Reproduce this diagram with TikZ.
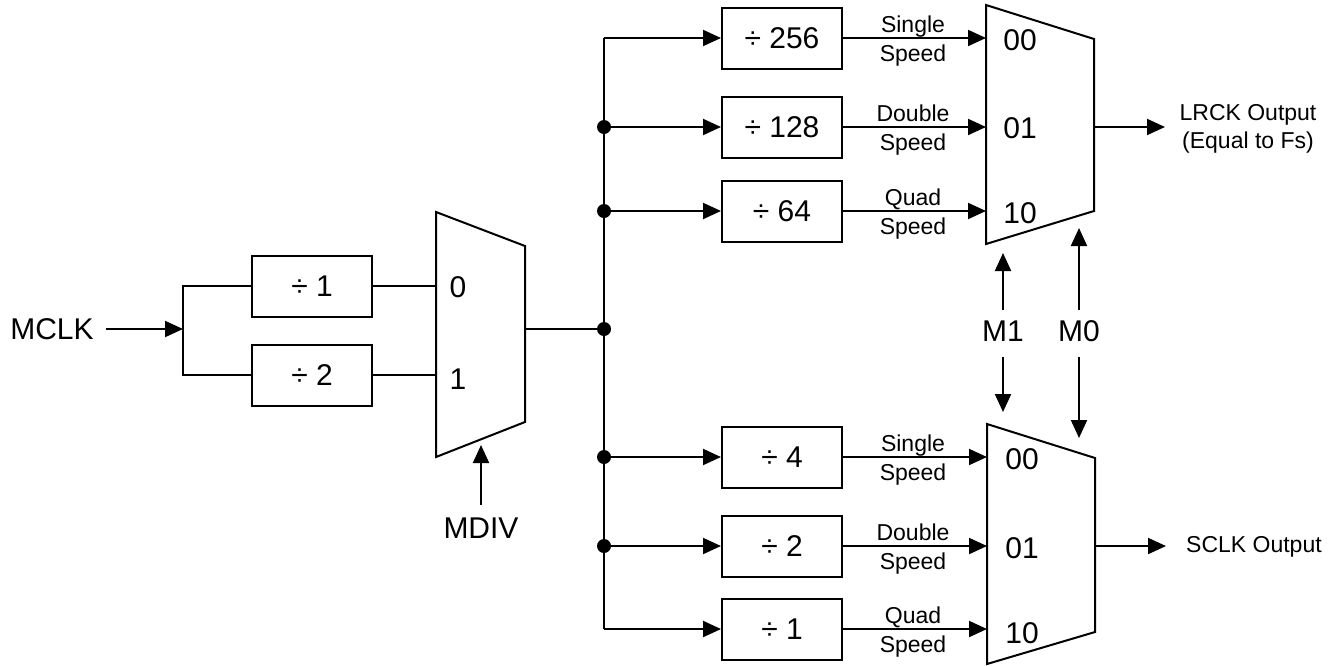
\documentclass[tikz,border=0pt]{standalone}
\usepackage{fontspec}
\setmainfont{Liberation Sans}
\usetikzlibrary{arrows.meta}
\begin{document}
\begin{tikzpicture}[x=1pt,y=-1pt,
  wire/.style={line width=2pt},
  arr/.style={line width=2pt,-{Triangle[length=18pt,width=16pt]}},
  divbox/.style={draw,line width=2pt,minimum width=120pt,minimum height=61pt,inner sep=0pt,font=\fontsize{30}{34}\selectfont},
  big/.style={inner sep=0pt,font=\fontsize{30}{34}\selectfont},
  small/.style={inner sep=0pt,font=\fontsize{23}{28}\selectfont},
  dot/.style={circle,fill,inner sep=0pt,minimum size=14pt},
  muxshape/.style={draw,line width=2pt,line join=miter}
]
\useasboundingbox (0,0) rectangle (1341,665);

% ---- input stage ----
\node[big] (mclk) at (52,329) {MCLK};
\coordinate (br) at (183,329);
\node[divbox] (d1) at (312,286) {÷ 1};
\node[divbox] (d2) at (312,375) {÷ 2};
\draw[arr] ([xshift=12pt]mclk.east) -- (br);
\draw[wire] (d1.west) -| (br) |- (d2.west);

% mux 1
\draw[muxshape] (436,212) -- (525,246) -- (525,422) -- (436,457) -- cycle;
\coordinate (m1a) at (436,286);
\coordinate (m1b) at (436,375);
\coordinate (m1o) at (525,329);
\coordinate (m1s) at (481,445);
\node[big] (l0) at (458,287) {0};
\node[big] (l1) at (458,379) {1};
\draw[wire] (d1.east) -- (m1a);
\draw[wire] (d2.east) -- (m1b);
\node[big] (mdiv) at (481,528) {MDIV};
\draw[arr] ([yshift=12pt]mdiv.north) -- (m1s);

% ---- bus ----
\coordinate (bt) at (604,38);
\coordinate (bb) at (604,629);
\node[dot] (j2) at (604,127) {};
\node[dot] (j3) at (604,211) {};
\node[dot] (jm) at (604,329) {};
\node[dot] (j4) at (604,457) {};
\node[dot] (j5) at (604,546) {};
\draw[wire] (bt) -- (bb);
\draw[wire] (m1o) -- (jm.center);

% ---- dividers ----
\node[divbox] (t1) at (782,38) {÷ 256};
\node[divbox] (t2) at (782,127) {÷ 128};
\node[divbox] (t3) at (782,211) {÷ 64};
\node[divbox] (b1) at (782,457) {÷ 4};
\node[divbox] (b2) at (782,546) {÷ 2};
\node[divbox] (b3) at (782,629) {÷ 1};
\draw[arr] (bt) -- (t1.west);
\draw[arr] (j2.center) -- (t2.west);
\draw[arr] (j3.center) -- (t3.west);
\draw[arr] (j4.center) -- (b1.west);
\draw[arr] (j5.center) -- (b2.west);
\draw[arr] (bb) -- (b3.west);

% ---- mux 2 (LRCK) ----
\draw[muxshape] (986,5) -- (1094,39) -- (1094,211) -- (986,244) -- cycle;
\coordinate (m2a) at (986,38);
\coordinate (m2b) at (986,127);
\coordinate (m2c) at (986,211);
\coordinate (m2o) at (1094,127);
\node[big] (m2l0) at (1020,40) {00};
\node[big] (m2l1) at (1020,128) {01};
\node[big] (m2l2) at (1020,213) {10};
\draw[arr] (t1.east) -- (m2a);
\draw[arr] (t2.east) -- (m2b);
\draw[arr] (t3.east) -- (m2c);
\node[small,anchor=base] (s1) at (913,32) {Single};
\node[small,anchor=north] (s1b) at (913,45) {Speed};
\node[small,anchor=base] (s2) at (913,121) {Double};
\node[small,anchor=north] (s2b) at (913,134) {Speed};
\node[small,anchor=base] (s3) at (913,205) {Quad};
\node[small,anchor=north] (s3b) at (913,218) {Speed};

% ---- mux 3 (SCLK) ----
\draw[muxshape] (987,424) -- (1095,458) -- (1095,632) -- (987,664) -- cycle;
\coordinate (m3a) at (987,457);
\coordinate (m3b) at (987,546);
\coordinate (m3c) at (987,629);
\coordinate (m3o) at (1095,546);
\node[big] (m3l0) at (1022,459) {00};
\node[big] (m3l1) at (1022,548) {01};
\node[big] (m3l2) at (1022,633) {10};
\draw[arr] (b1.east) -- (m3a);
\draw[arr] (b2.east) -- (m3b);
\draw[arr] (b3.east) -- (m3c);
\node[small,anchor=base] (u1) at (913,451) {Single};
\node[small,anchor=north] (u1b) at (913,464) {Speed};
\node[small,anchor=base] (u2) at (913,540) {Double};
\node[small,anchor=north] (u2b) at (913,553) {Speed};
\node[small,anchor=base] (u3) at (913,623) {Quad};
\node[small,anchor=north] (u3b) at (913,636) {Speed};

% ---- select lines ----
\node[big] (M1) at (1003,331) {M1};
\node[big] (M0) at (1079,331) {M0};
\coordinate (m2s1) at (1003,253);
\coordinate (m2s0) at (1079,228);
\coordinate (m3s1) at (1003,412);
\coordinate (m3s0) at (1079,438);
\draw[arr] ([yshift=10pt]M1.north) -- (m2s1);
\draw[arr] ([yshift=10pt]M0.north) -- (m2s0);
\draw[arr] ([yshift=-15pt]M1.south) -- (m3s1);
\draw[arr] ([yshift=-15pt]M0.south) -- (m3s0);

% ---- outputs ----
\node[small,align=center] (lrck) at (1248,129) {LRCK Output\\(Equal to Fs)};
\coordinate (lrtip) at (1165,127);
\draw[arr] (m2o) -- (lrtip);
\node[small,anchor=west] (sclk) at (1186,547) {SCLK Output};
\coordinate (sctip) at (1166,546);
\draw[arr] (m3o) -- (sctip);
\end{tikzpicture}
\end{document}
